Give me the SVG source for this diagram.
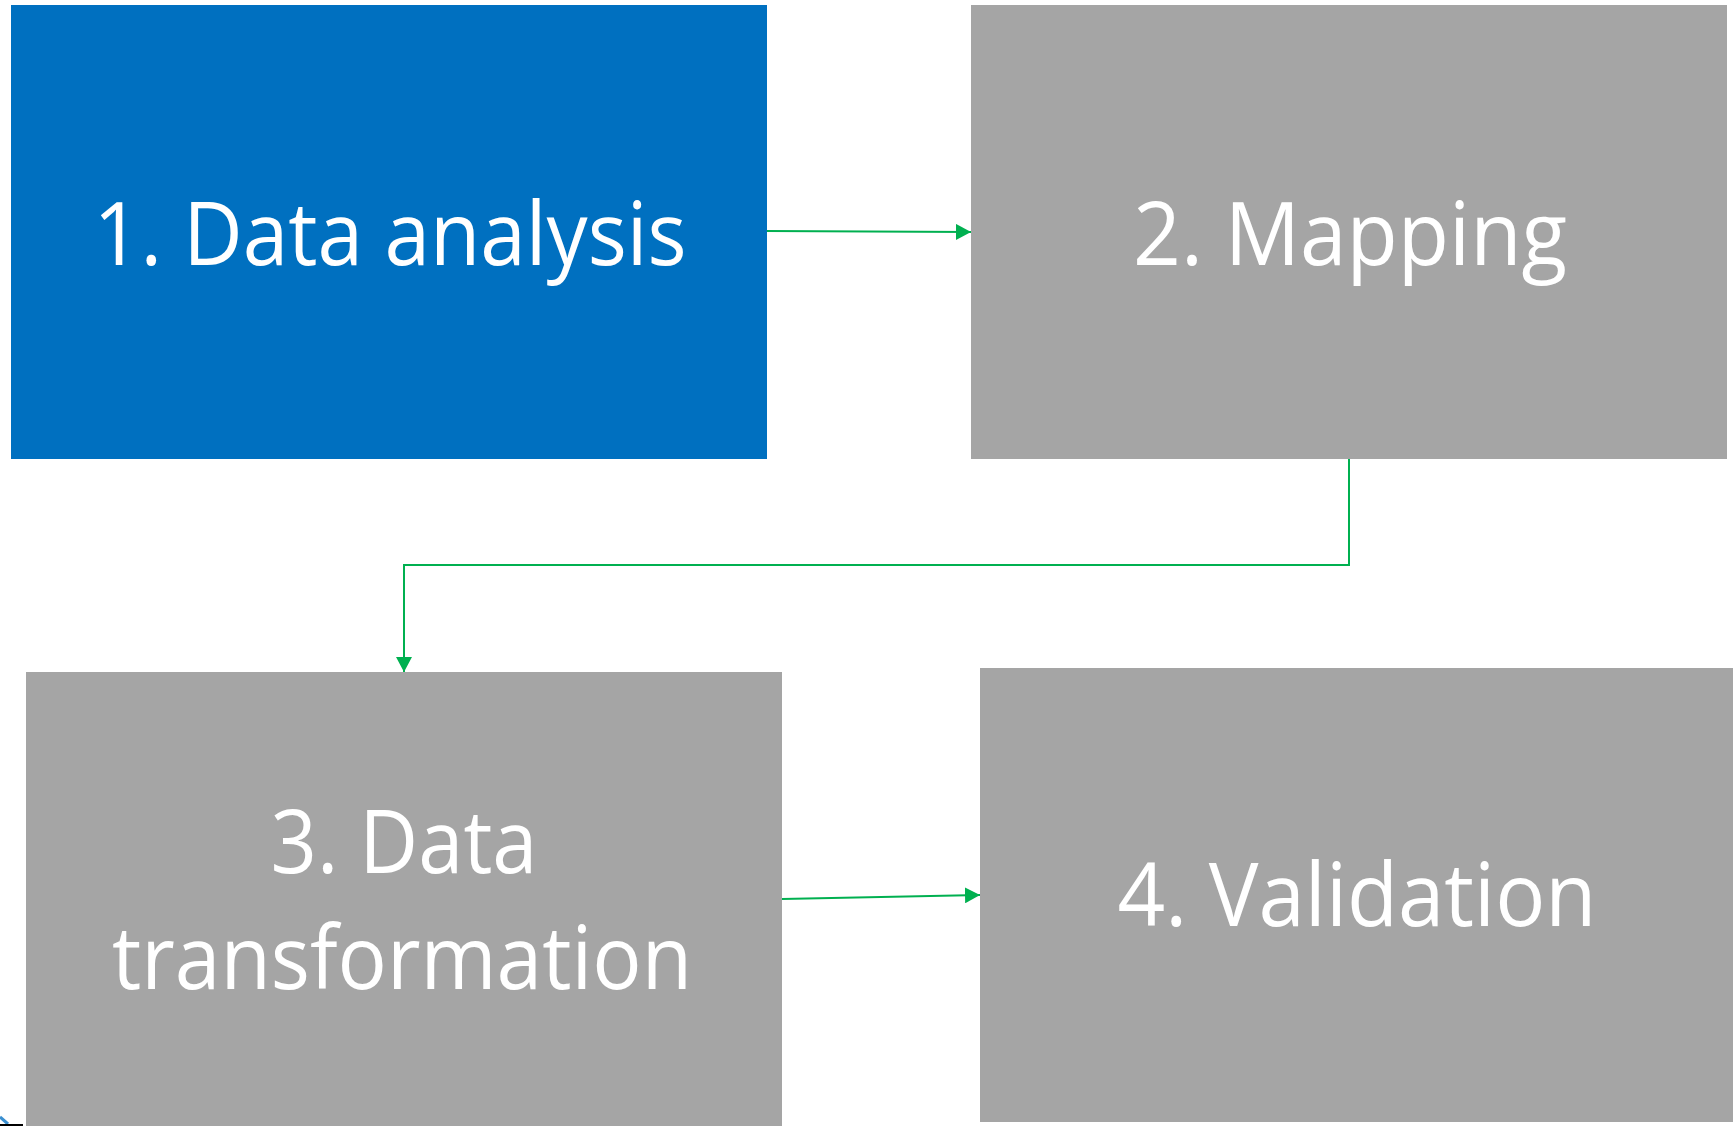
<svg xmlns="http://www.w3.org/2000/svg" width="1733" height="1126" viewBox="0 0 1733 1126">
  <style>
    .step-blue { fill: #0070C0; }
    .step-grey { fill: #A5A5A5; }
    .label { fill: #FFFFFF; font-family: "Open Sans", "Noto Sans", "Liberation Sans", sans-serif; font-size: 88px; text-anchor: middle; }
    .flow { fill: none; stroke: #00B050; stroke-width: 2; marker-end: url(#arrow); }
  </style>
  <defs>
    <marker id="arrow" markerUnits="userSpaceOnUse" markerWidth="16" markerHeight="16" refX="15" refY="8" orient="auto">
      <path d="M0,0 L15,8 L0,16 Z" fill="#00B050"/>
    </marker>
  </defs>

  <rect width="1733" height="1126" fill="#FFFFFF"/>

  <g id="step1">
    <rect class="step-blue" x="11" y="5" width="756" height="454"/>
    <text class="label" x="390" y="265" textLength="593" lengthAdjust="spacingAndGlyphs">1. Data analysis</text>
  </g>

  <g id="step2">
    <rect class="step-grey" x="971" y="5" width="756" height="454"/>
    <text class="label" x="1350" y="265" textLength="434" lengthAdjust="spacingAndGlyphs">2. Mapping</text>
  </g>

  <g id="step3">
    <rect class="step-grey" x="26" y="672" width="756" height="454"/>
    <text class="label" x="404" y="873" textLength="267" lengthAdjust="spacingAndGlyphs">3. Data</text>
    <text class="label" x="402" y="989" textLength="580" lengthAdjust="spacingAndGlyphs">transformation</text>
  </g>

  <g id="step4">
    <rect class="step-grey" x="980" y="668" width="753" height="454"/>
    <text class="label" x="1357" y="926" textLength="479" lengthAdjust="spacingAndGlyphs">4. Validation</text>
  </g>

  <g id="connectors">
    <path class="flow" d="M767,231 L971,232"/>
    <path class="flow" d="M1349,459 L1349,565 L404,565 L404,672"/>
    <path class="flow" d="M782,899 L980,895"/>
  </g>

  <!-- clipped corner mark at the lower left edge -->
  <g id="corner-mark">
    <path d="M0,1117 L8,1124" fill="none" stroke="#3A8FD0" stroke-width="3"/>
    <path d="M0,1125 L23,1125" fill="none" stroke="#000000" stroke-width="2"/>
  </g>
</svg>
